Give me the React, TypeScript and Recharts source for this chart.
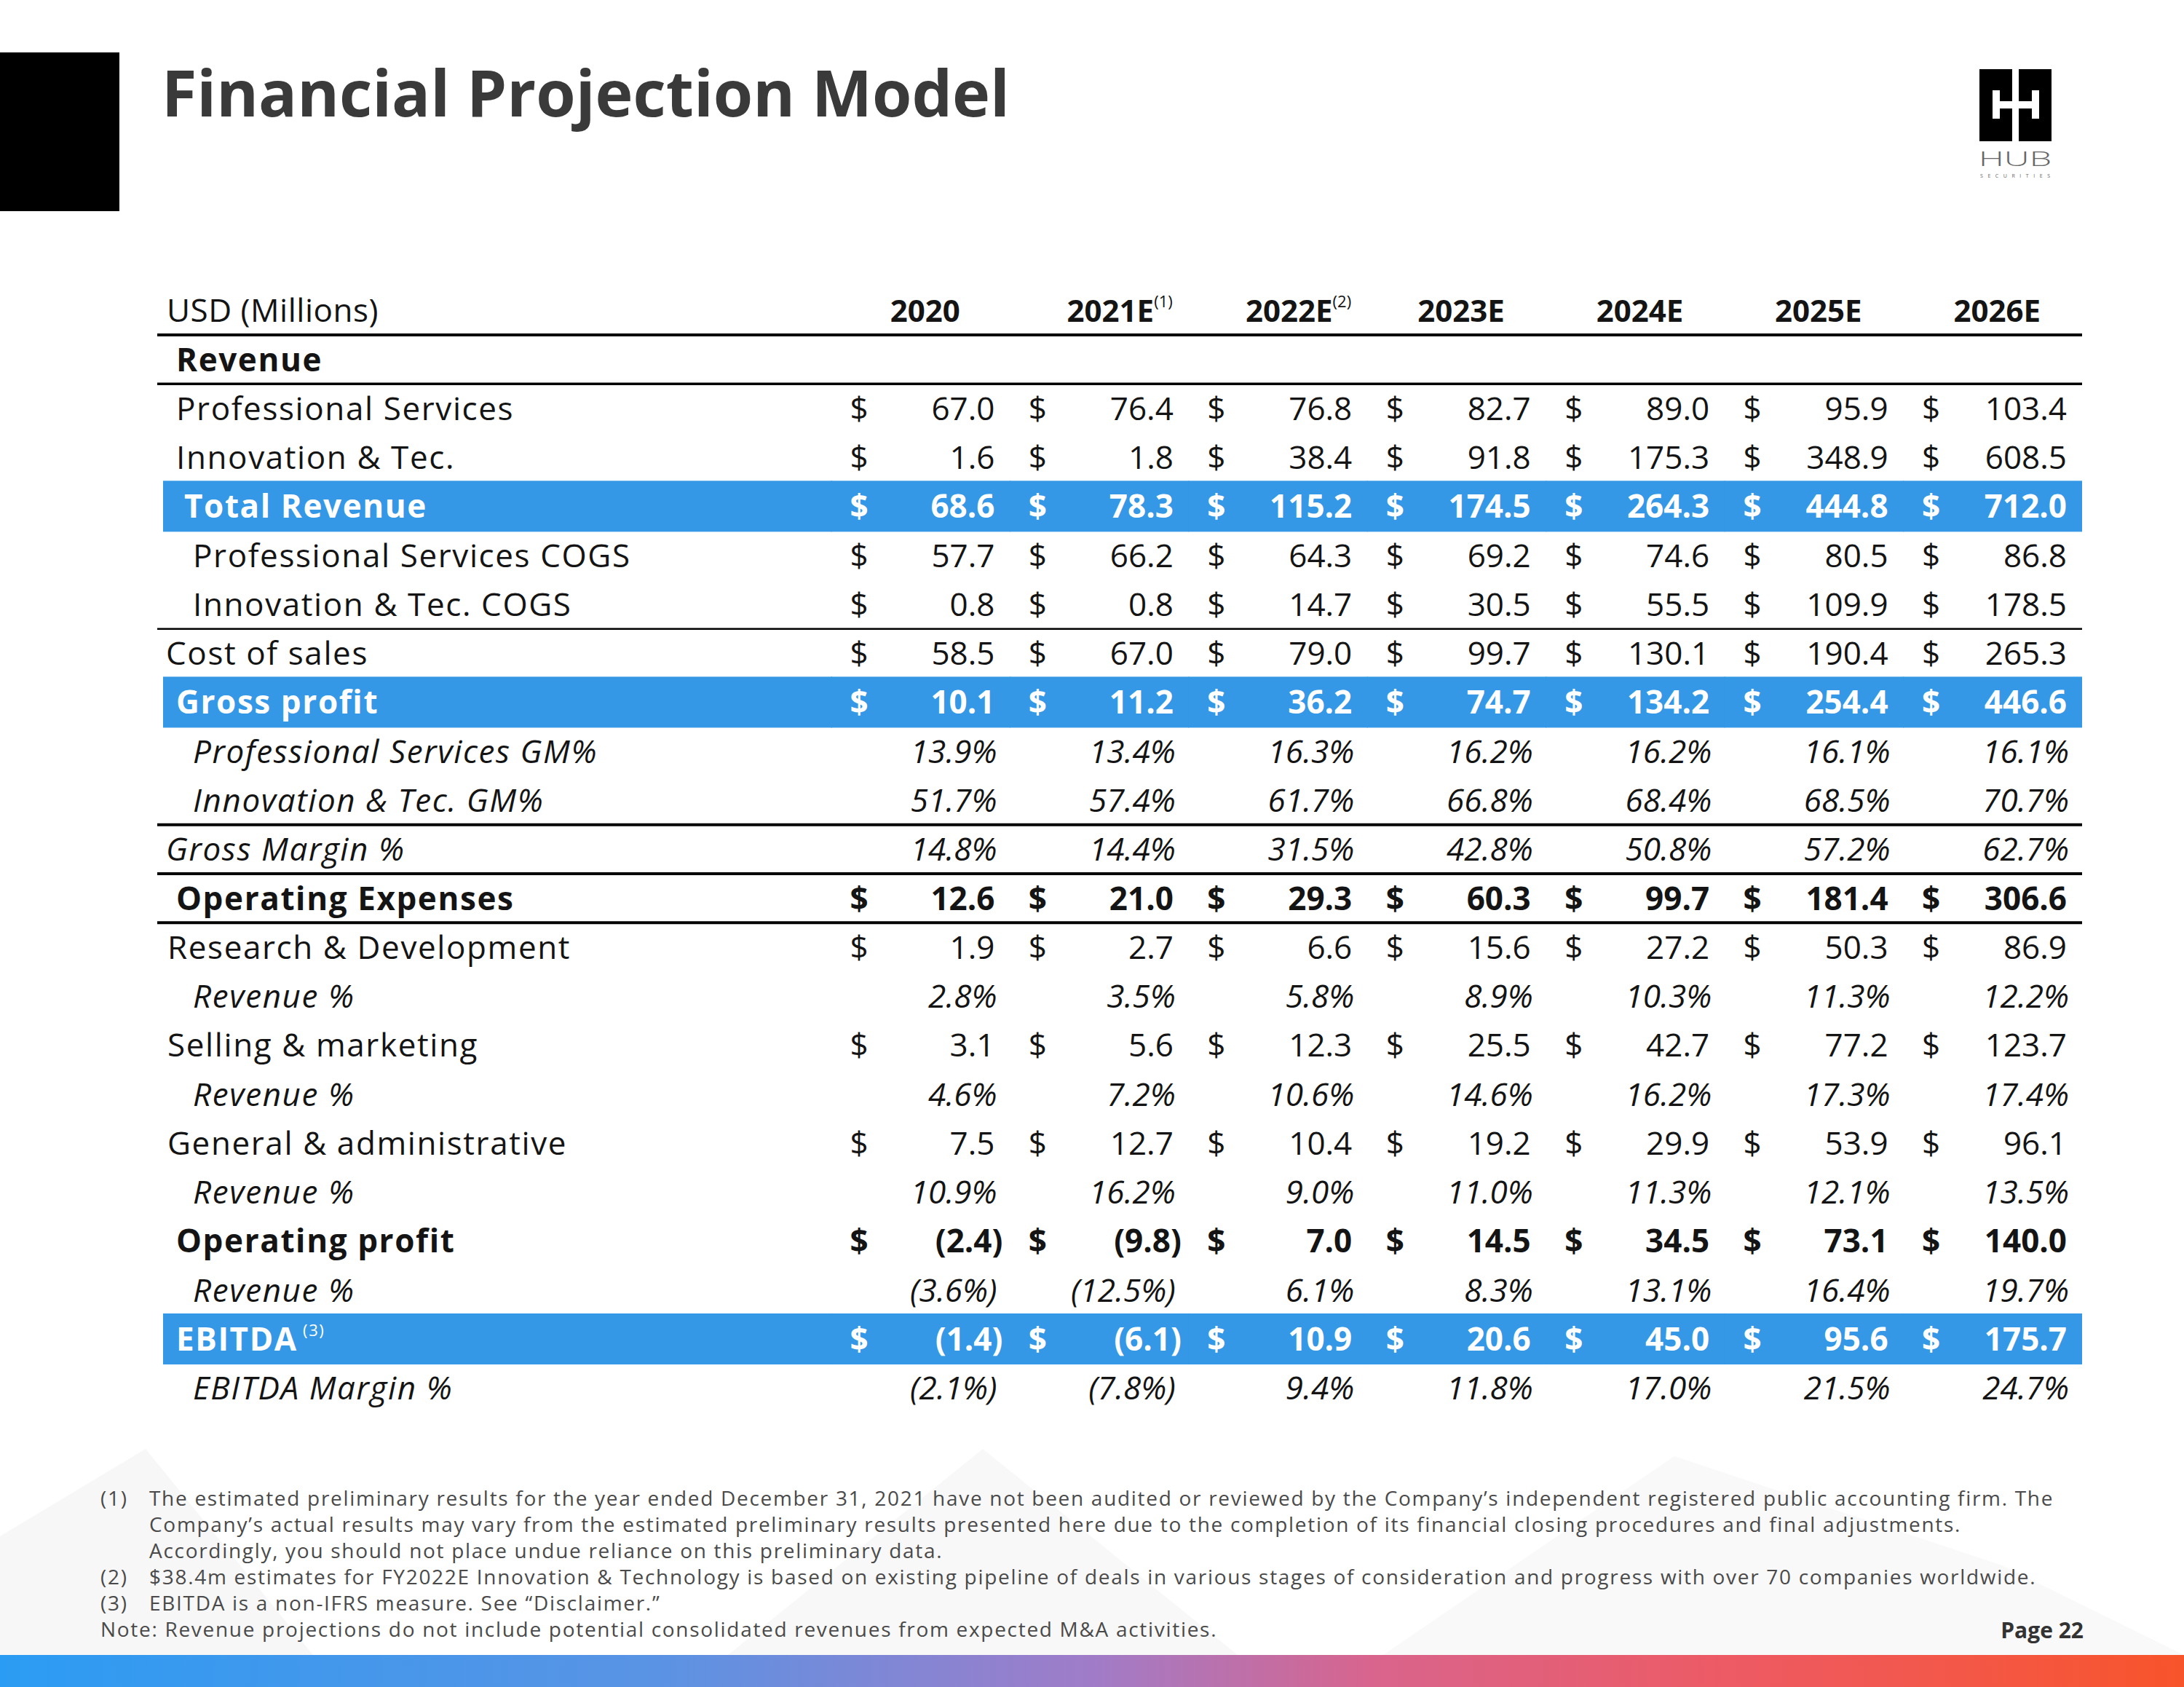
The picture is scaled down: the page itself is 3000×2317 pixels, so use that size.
import React from 'react';
import { ComposedChart, Bar, XAxis, YAxis, ReferenceLine } from 'recharts';

// ---------- data ----------
const YEARS = ['2020', '2021E', '2022E', '2023E', '2024E', '2025E', '2026E'];
const YEAR_NOTES = ['', '(1)', '(2)', '', '', '', ''];

const professionalServices = [67.0, 76.4, 76.8, 82.7, 89.0, 95.9, 103.4];
const innovationTec = [1.6, 1.8, 38.4, 91.8, 175.3, 348.9, 608.5];
const totalRevenue = [68.6, 78.3, 115.2, 174.5, 264.3, 444.8, 712.0];
const psCogs = [57.7, 66.2, 64.3, 69.2, 74.6, 80.5, 86.8];
const itCogs = [0.8, 0.8, 14.7, 30.5, 55.5, 109.9, 178.5];
const costOfSales = [58.5, 67.0, 79.0, 99.7, 130.1, 190.4, 265.3];
const grossProfit = [10.1, 11.2, 36.2, 74.7, 134.2, 254.4, 446.6];
const psGm = [13.9, 13.4, 16.3, 16.2, 16.2, 16.1, 16.1];
const itGm = [51.7, 57.4, 61.7, 66.8, 68.4, 68.5, 70.7];
const grossMargin = [14.8, 14.4, 31.5, 42.8, 50.8, 57.2, 62.7];
const operatingExpenses = [12.6, 21.0, 29.3, 60.3, 99.7, 181.4, 306.6];
const researchDev = [1.9, 2.7, 6.6, 15.6, 27.2, 50.3, 86.9];
const researchDevPct = [2.8, 3.5, 5.8, 8.9, 10.3, 11.3, 12.2];
const sellingMarketing = [3.1, 5.6, 12.3, 25.5, 42.7, 77.2, 123.7];
const sellingMarketingPct = [4.6, 7.2, 10.6, 14.6, 16.2, 17.3, 17.4];
const generalAdmin = [7.5, 12.7, 10.4, 19.2, 29.9, 53.9, 96.1];
const generalAdminPct = [10.9, 16.2, 9.0, 11.0, 11.3, 12.1, 13.5];
const operatingProfit = [-2.4, -9.8, 7.0, 14.5, 34.5, 73.1, 140.0];
const operatingProfitPct = [-3.6, -12.5, 6.1, 8.3, 13.1, 16.4, 19.7];
const ebitda = [-1.4, -6.1, 10.9, 20.6, 45.0, 95.6, 175.7];
const ebitdaMargin = [-2.1, -7.8, 9.4, 11.8, 17.0, 21.5, 24.7];

const ROW_LABELS = [
  'Revenue', 'Professional Services', 'Innovation & Tec.', 'Total Revenue',
  'Professional Services COGS', 'Innovation & Tec. COGS', 'Cost of sales', 'Gross profit',
  'Professional Services GM%', 'Innovation & Tec. GM%', 'Gross Margin %', 'Operating Expenses',
  'Research & Development', 'Revenue %', 'Selling & marketing', 'Revenue %',
  'General & administrative', 'Revenue %', 'Operating profit', 'Revenue %', 'EBITDA', 'EBITDA Margin %',
];
const ROW_NOTES = ['', '', '', '', '', '', '', '', '', '', '', '', '', '', '', '', '', '', '', '', '(3)', ''];
const ROW_VALUES: (number[] | null)[] = [
  null, professionalServices, innovationTec, totalRevenue,
  psCogs, itCogs, costOfSales, grossProfit,
  psGm, itGm, grossMargin, operatingExpenses,
  researchDev, researchDevPct, sellingMarketing, sellingMarketingPct,
  generalAdmin, generalAdminPct, operatingProfit, operatingProfitPct, ebitda, ebitdaMargin,
];
const ROW_UNITS = ['', '$', '$', '$', '$', '$', '$', '$', '%', '%', '%', '$', '$', '%', '$', '%', '$', '%', '$', '%', '$', '%'];

const FOOTNOTES = [
  ['(1)', 'The estimated preliminary results for the year ended December 31, 2021 have not been audited or reviewed by the Company\u2019s independent registered public accounting firm. The'],
  ['', 'Company\u2019s actual results may vary from the estimated preliminary results presented here due to the completion of its financial closing procedures and final adjustments.'],
  ['', 'Accordingly, you should not place undue reliance on this preliminary data.'],
  ['(2)', '$38.4m estimates for FY2022E Innovation & Technology is based on existing pipeline of deals in various stages of consideration and progress with over 70 companies worldwide.'],
  ['(3)', 'EBITDA is a non-IFRS measure. See \u201cDisclaimer.\u201d'],
];
const NOTE_LINE = 'Note: Revenue projections do not include potential consolidated revenues from expected M&A activities.';

// ---------- styles ----------
const FONT = '"Open Sans", "DejaVu Sans", sans-serif';
const BLUE = '#3498E6';
const INK = '#141414';
type RowStyle = 'head' | 'plain' | 'blue' | 'pct' | 'bold';
const ROW_STYLE: RowStyle[] = [
  'head', 'plain', 'plain', 'blue', 'plain', 'plain', 'plain', 'blue', 'pct', 'pct', 'pct', 'bold',
  'plain', 'pct', 'plain', 'pct', 'plain', 'pct', 'bold', 'pct', 'blue', 'pct',
];
const INDENT = [26, 26, 26, 37, 49, 49, 12, 26, 49, 49, 12, 26, 14, 49, 14, 49, 14, 49, 26, 49, 26, 49];
const RULES = [
  { row: 0, w: 4 }, { row: 1, w: 3.5 }, { row: 6, w: 2.5 },
  { row: 10, w: 4 }, { row: 11, w: 4 }, { row: 12, w: 4 },
];

const LABEL_SPAN = 3.773; // label column width in column units
const TOTAL_SPAN = LABEL_SPAN + YEARS.length;
const FONT_SIZE = 44;
const FOOT_SIZE = 28;
const FOOT_SPACING = 1.7;

const tableData = ROW_LABELS.map((_, i) => {
  const row: any = { id: `r${i}`, idx: i, lead: LABEL_SPAN };
  YEARS.forEach((_, c) => { row[`c${c}`] = 1; });
  return row;
});

const HEADER_TICKS = [0, ...YEARS.map((_, c) => LABEL_SPAN + c + 0.5)];

const fmt = (v: number, unit: string) => {
  const s = Math.abs(v).toFixed(1) + (unit === '%' ? '%' : '');
  return v < 0 ? `(${s})` : s;
};

const textStyle = (st: RowStyle) => ({
  fill: st === 'blue' ? '#ffffff' : INK,
  fontWeight: st === 'blue' || st === 'bold' || st === 'head' ? 700 : 400,
  fontStyle: st === 'pct' ? 'italic' : 'normal',
});

const HeaderTick = (props: any) => {
  const { x, y, payload, index } = props;
  const base = y - 18;
  if (index === 0) {
    return (
      <text x={x + 13} y={base} fontFamily={FONT} fontSize={FONT_SIZE} fill={INK} letterSpacing={0.5}>USD (Millions)</text>
    );
  }
  const c = Math.round(payload.value - LABEL_SPAN - 0.5);
  const note = YEAR_NOTES[c];
  return (
    <text x={x + 6 + (note ? 22 : 0)} y={base} textAnchor="middle" fontFamily={FONT} fontSize={42} fontWeight={700} fill={INK}>
      {YEARS[c]}
      {note ? <tspan fontSize={22} fontWeight={400} dy={-20}>{note}</tspan> : null}
    </text>
  );
};

const LabelShape = (props: any) => {
  const { x, y, width, height, payload } = props;
  const i = payload.idx;
  const st = ROW_STYLE[i];
  const ts = textStyle(st);
  return (
    <g>
      {st === 'blue' && <rect x={x + 8} y={y - 1.5} width={width - 7} height={height + 3} fill={BLUE} />}
      <text x={x + INDENT[i]} y={y + height / 2 + 16} fontFamily={FONT} fontSize={FONT_SIZE} letterSpacing={1.6} {...ts}>
        {ROW_LABELS[i]}
        {ROW_NOTES[i] ? <tspan fontSize={22} fontWeight={400} dy={-20}>{' ' + ROW_NOTES[i]}</tspan> : null}
      </text>
    </g>
  );
};

const makeCellShape = (c: number) => (props: any) => {
  const { x, y, width, height, payload } = props;
  const i = payload.idx;
  const st = ROW_STYLE[i];
  const vals = ROW_VALUES[i];
  const unit = ROW_UNITS[i];
  const ts = textStyle(st);
  const base = y + height / 2 + 16;
  const v = vals ? vals[c] : null;
  const right = x + width - 21 + (v !== null && v < 0 && unit === '$' ? 11 : 0) + (unit === '%' ? 3 : 0);
  return (
    <g>
      {st === 'blue' && <rect x={x - 0.5} y={y - 1.5} width={width + 1} height={height + 3} fill={BLUE} />}
      {v !== null && unit === '$' && (
        <text x={x + 38} y={base} textAnchor="middle" fontFamily={FONT} fontSize={FONT_SIZE} {...ts} fontStyle="normal">$</text>
      )}
      {v !== null && (
        <text x={right} y={base} textAnchor="end" fontFamily={FONT} fontSize={FONT_SIZE} {...ts}>{fmt(v, unit)}</text>
      )}
    </g>
  );
};

const FinancialTable = () => (
  <ComposedChart
    layout="vertical"
    width={2644}
    height={1640}
    data={tableData}
    margin={{ top: 0, right: 0, bottom: 0, left: 0 }}
    barCategoryGap={0}
    barGap={0}
  >
    <XAxis
      type="number"
      orientation="top"
      domain={[0, TOTAL_SPAN]}
      ticks={HEADER_TICKS}
      interval={0}
      height={160}
      axisLine={false}
      tickLine={false}
      tickSize={0}
      tickMargin={0}
      tick={<HeaderTick />}
      allowDataOverflow
    />
    <YAxis type="category" dataKey="id" hide />
    <Bar dataKey="lead" stackId="t" shape={LabelShape} isAnimationActive={false} />
    {YEARS.map((yr, c) => (
      <Bar key={yr} dataKey={`c${c}`} stackId="t" shape={makeCellShape(c)} isAnimationActive={false} />
    ))}
    {RULES.map((r) => (
      <ReferenceLine key={r.row} y={`r${r.row}`} position="start" stroke="#000" strokeWidth={r.w} ifOverflow="visible" />
    ))}
  </ComposedChart>
);

const Decor = () => (
  <svg width={3000} height={2317} style={{ position: 'absolute', left: 0, top: 0 }}>
    <defs>
      <linearGradient id="footbar" x1="0" x2="1" y1="0" y2="0">
        <stop offset="0" stopColor="#2b9cf3" />
        <stop offset="0.3" stopColor="#5a93e4" />
        <stop offset="0.5" stopColor="#a07cc8" />
        <stop offset="0.63" stopColor="#d9648c" />
        <stop offset="0.8" stopColor="#ee5a62" />
        <stop offset="1" stopColor="#f8542b" />
      </linearGradient>
    </defs>
    <rect x={0} y={0} width={3000} height={2317} fill="#ffffff" />
    <polygon points="0,2273 0,2110 200,1990 430,2273" fill="#f7f7f7" />
    <polygon points="1000,2273 1350,1990 1700,2273" fill="#f8f8f8" />
    <polygon points="1900,2273 2300,2000 2750,2150 3000,2273" fill="#f9f9f9" />
    <rect x={0} y={72} width={164} height={218} fill="#000" />
    <text x={222} y={160} fontFamily={FONT} fontSize={88} fontWeight={700} fill="#3a3a3a">Financial Projection Model</text>
    {/* logo */}
    <rect x={2719} y={95} width={99} height={99} fill="#000" />
    <rect x={2764} y={95} width={9} height={99} fill="#fff" />
    <rect x={2737} y={124} width={10} height={39} fill="#fff" />
    <rect x={2791} y={124} width={10} height={39} fill="#fff" />
    <rect x={2747} y={139} width={44} height={10} fill="#fff" />
    <text x={2718} y={228} fontFamily={FONT} fontSize={28} fontWeight={300} fill="#666" textLength={100} lengthAdjust="spacingAndGlyphs">HUB</text>
    <text x={2720} y={244} fontFamily={FONT} fontSize={7} fill="#666" textLength={96}>SECURITIES</text>
    {/* footnotes */}
    {FOOTNOTES.map(([mark, body], k) => (
      <g key={k}>
        {mark && <text x={138} y={2068 + k * 36} fontFamily={FONT} fontSize={FOOT_SIZE} letterSpacing={FOOT_SPACING} fill="#4a4a4a">{mark}</text>}
        <text x={205} y={2068 + k * 36} fontFamily={FONT} fontSize={FOOT_SIZE} letterSpacing={FOOT_SPACING} fill="#4a4a4a">{body}</text>
      </g>
    ))}
    <text x={138} y={2068 + FOOTNOTES.length * 36} fontFamily={FONT} fontSize={FOOT_SIZE} letterSpacing={FOOT_SPACING} fill="#4a4a4a">{NOTE_LINE}</text>
    <text x={2862} y={2250} textAnchor="end" fontFamily={FONT} fontSize={30} fontWeight={700} fill="#333">Page  22</text>
    <rect x={0} y={2273} width={3000} height={44} fill="url(#footbar)" />
  </svg>
);

export default function App() {
  return (
    <div style={{ position: 'absolute', left: 0, top: 0, width: 3000, height: 2317, overflow: 'hidden', background: '#fff' }}>
      <Decor />
      <div style={{ position: 'absolute', left: 216, top: 300 }}>
        <FinancialTable />
      </div>
    </div>
  );
}
